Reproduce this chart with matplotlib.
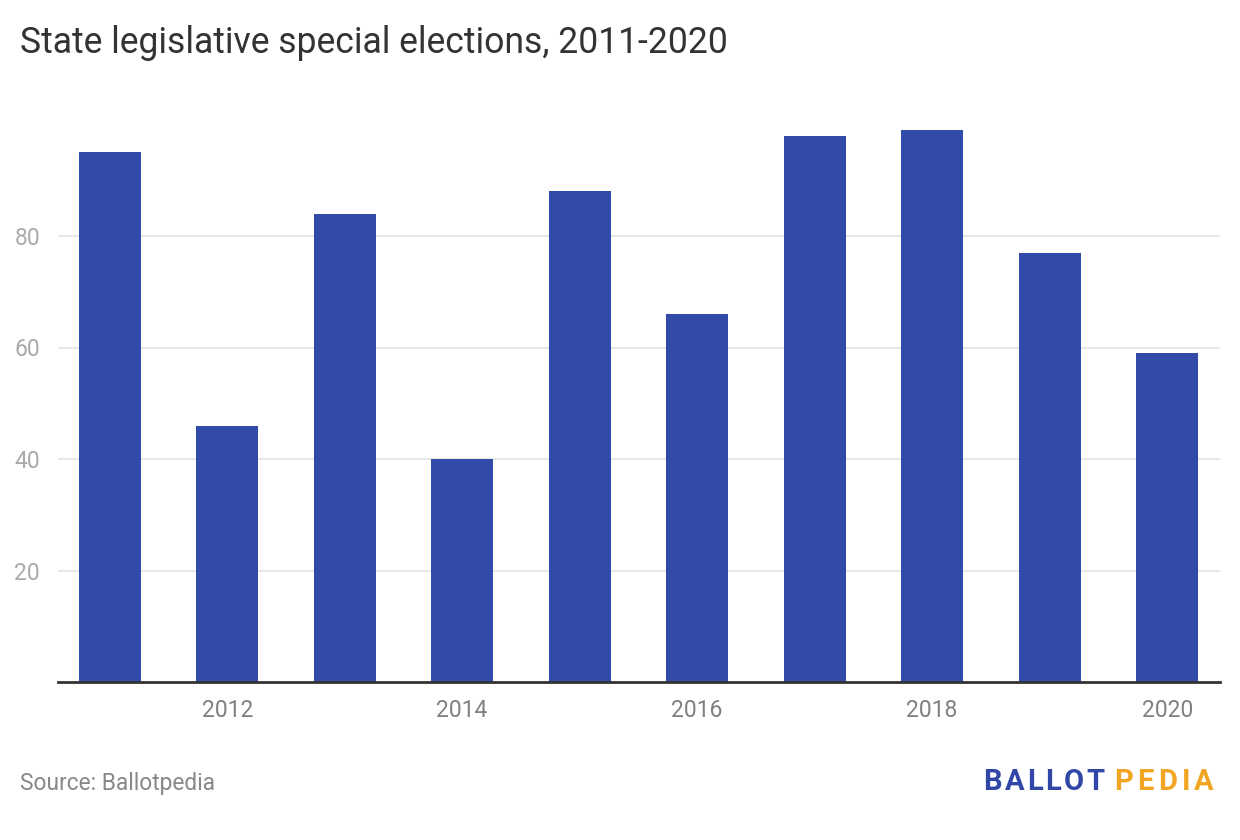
import matplotlib
matplotlib.use("Agg")
import matplotlib.pyplot as plt

years = [2011, 2012, 2013, 2014, 2015, 2016, 2017, 2018, 2019, 2020]
counts = [95, 46, 84, 40, 88, 66, 98, 99, 77, 59]
ytick_vals = [20, 40, 60, 80]
xtick_years = [2012, 2014, 2016, 2018, 2020]

plt.rcParams['font.family'] = ['Roboto', 'DejaVu Sans']

fig = plt.figure(figsize=(12.4, 8.4), dpi=100)
W, H = 1240, 840
left, right, top, bottom = 58, 1220, 124.5, 682
ax = fig.add_axes([left / W, 1 - bottom / H, (right - left) / W, (bottom - top) / H])

ax.bar(years, counts, width=0.53, color='#334BA8', zorder=3)
ax.set_xlim(2011 - 0.44, 2020 + 0.45)
ax.set_ylim(0, 100)

ax.set_yticks(ytick_vals)
ax.set_yticklabels([str(v) for v in ytick_vals])
ax.set_xticks(xtick_years)
ax.set_xticklabels([str(y) for y in xtick_years])
ax.tick_params(axis='y', length=0, pad=13, labelsize=16.5, labelcolor='#aaaaaa')
ax.tick_params(axis='x', length=0, pad=12, labelsize=16.5, labelcolor='#808080')
ax.grid(axis='y', color='#e3e3e3', linewidth=1.2, zorder=0)
for s in ['top', 'right', 'left']:
    ax.spines[s].set_visible(False)
ax.spines['bottom'].set_color('#333333')
ax.spines['bottom'].set_linewidth(2)
ax.spines['bottom'].set_zorder(4)

fig.text(20 / W, 1 - 53 / H, "State legislative special elections, 2011-2020",
         fontsize=25.6, color='#333333', ha='left', va='baseline')
fig.text(20 / W, 1 - 790 / H, "Source: Ballotpedia",
         fontsize=16.4, color='#888888', ha='left', va='baseline')

# Logo with letter spacing
renderer = fig.canvas.get_renderer()
def draw_tracked(word, x0, x1, color):
    texts = []
    widths = []
    for ch in word:
        t = fig.text(0, 1 - 790 / H, ch, fontsize=21, fontweight='semibold',
                     color=color, ha='left', va='baseline')
        w = t.get_window_extent(renderer).width
        texts.append(t)
        widths.append(w)
    total = sum(widths)
    gap = (x1 - x0 - total) / (len(word) - 1)
    x = x0
    for t, w in zip(texts, widths):
        t.set_x(x / W)
        x += w + gap

draw_tracked("BALLOT", 983, 1105, '#3147A8')
draw_tracked("PEDIA", 1114, 1214, '#F2A523')

fig.savefig("out.png", dpi=100)
